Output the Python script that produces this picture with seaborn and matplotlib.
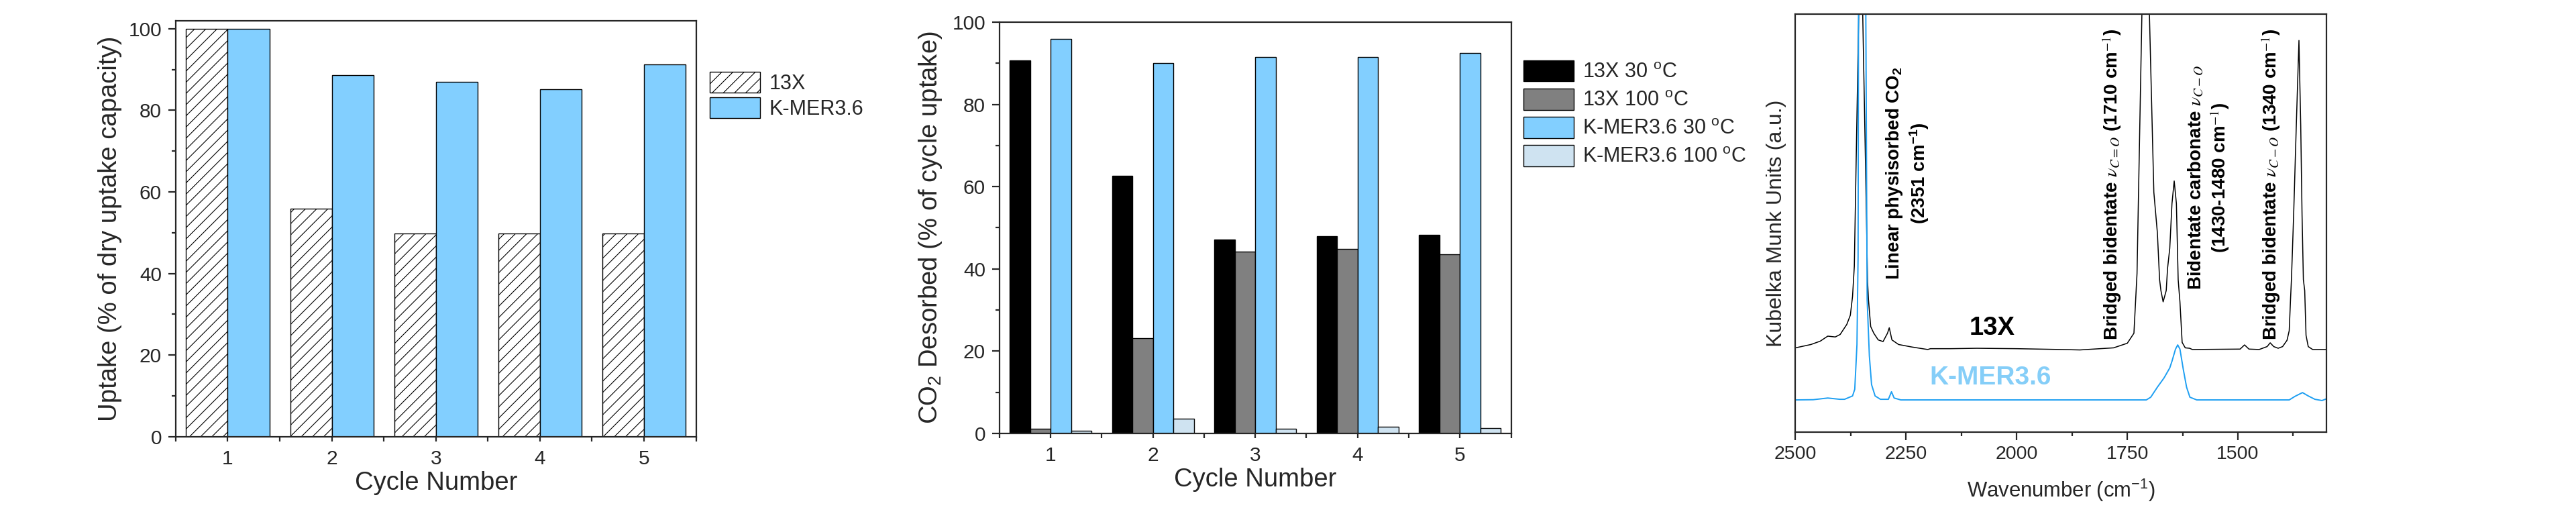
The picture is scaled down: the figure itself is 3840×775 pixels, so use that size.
import matplotlib

matplotlib.use("Agg")
import matplotlib.pyplot as plt
import numpy as np
import pandas as pd
import seaborn as sns
from matplotlib.patches import Patch
from matplotlib.ticker import FixedLocator, MultipleLocator

# ---- data: panel 1 (uptake per cycle) ----
cycles = ["1", "2", "3", "4", "5"]
uptake_13x = [100.0, 55.9, 49.8, 49.8, 49.8]
uptake_kmer = [100.0, 88.6, 86.9, 85.1, 91.3]

# ---- data: panel 2 (CO2 desorbed per cycle) ----
des_13x_30 = [90.7, 62.7, 47.1, 47.9, 48.3]
des_13x_100 = [1.1, 23.1, 44.2, 44.8, 43.5]
des_kmer_30 = [96.0, 90.1, 91.5, 91.5, 92.5]
des_kmer_100 = [0.7, 3.5, 1.1, 1.6, 1.3]

# ---- data: panel 3 (DRIFTS spectra, arbitrary units) ----
wn_13x = [2500, 2465, 2444, 2427, 2410, 2399, 2384, 2376, 2371, 2367, 2362,
          2357, 2352, 2348, 2341, 2337, 2335, 2330, 2323, 2313, 2302, 2292,
          2288, 2282, 2267, 2237, 2201, 2195, 2150, 2090, 2000, 1900, 1857,
          1781, 1750, 1735, 1728, 1717, 1709, 1700, 1690, 1682, 1677, 1674,
          1669, 1662, 1659, 1654, 1649, 1644, 1639, 1635, 1631, 1626, 1619,
          1609, 1603, 1495, 1485, 1475, 1452, 1434, 1427, 1419, 1409, 1399,
          1389, 1384, 1381, 1379, 1374, 1368, 1362, 1358, 1355, 1352, 1349,
          1346, 1341, 1331, 1300]
km_13x = [20.2, 21.0, 21.8, 23.0, 22.8, 23.4, 25.8, 28.0, 32.5, 39.7, 70.0,
          100.0, 115.0, 100.0, 60.0, 36.0, 31.7, 25.3, 23.7, 22.1, 21.7, 23.7,
          25.0, 22.1, 21.0, 20.4, 19.8, 20.0, 20.0, 20.1, 20.0, 19.8, 19.7,
          20.2, 21.3, 23.7, 38.0, 100.0, 118.0, 100.0, 57.4, 47.7, 36.5, 33.9,
          31.2, 33.9, 39.2, 44.0, 54.7, 60.1, 54.7, 36.5, 31.2, 21.5, 20.2,
          20.1, 19.8, 19.9, 20.9, 19.9, 19.8, 20.5, 21.4, 20.5, 20.1, 20.5,
          22.0, 24.3, 31.9, 36.5, 52.0, 73.4, 93.7, 73.4, 52.0, 36.5, 33.9,
          23.2, 20.5, 19.8, 19.8]

wn_kmer = [2500, 2460, 2427, 2400, 2389, 2371, 2366, 2361, 2358.5, 2357.5,
           2350, 2341, 2338, 2333, 2328, 2320, 2308, 2290, 2283, 2277, 2262,
           1707, 1697, 1682, 1667, 1654, 1649, 1641, 1636, 1631, 1623.5, 1616,
           1608.5, 1593, 1384, 1371, 1354, 1341, 1326, 1310, 1300]
km_kmer = [7.75, 7.8, 8.2, 7.9, 7.9, 8.7, 10.3, 21.0, 42.0, 100.0,
           125.0, 100.0, 31.7, 18.3, 11.4, 8.7, 7.9, 7.9, 9.7, 8.2, 7.75,
           7.75, 8.4, 10.8, 13.0, 15.4, 17.0, 19.9, 20.9, 19.9, 15.1, 10.8,
           8.4, 7.75, 7.75, 8.6, 9.5, 8.7, 7.9, 7.6, 8.0]

# colours
light_blue = "#82CFFF"
pale_blue = "#CFE3F1"
grey = "#808080"
line_blue = "#1E9FF2"

sns.set_style("ticks")
plt.rcParams["font.family"] = ["Liberation Sans", "DejaVu Sans"]
plt.rcParams["mathtext.fontset"] = "custom"
plt.rcParams["mathtext.rm"] = "Liberation Sans"
plt.rcParams["mathtext.it"] = "Liberation Sans:italic"
plt.rcParams["mathtext.bf"] = "Liberation Sans:bold"
plt.rcParams["hatch.linewidth"] = 0.8
plt.rcParams["axes.linewidth"] = 1.6

tick_fs = 21.5
label_fs = 27.5
legend_fs = 22

fig = plt.figure(figsize=(38.4, 7.75), dpi=100)
ax1 = fig.add_axes([0.0682, 0.1604, 0.2020, 0.800])
ax2 = fig.add_axes([0.3880, 0.1666, 0.1986, 0.7907])
ax3 = fig.add_axes([0.6970, 0.1686, 0.2061, 0.8043])

# ---------------- panel 1 ----------------
df1 = pd.DataFrame({
    "Cycle": cycles * 2,
    "Material": ["13X"] * 5 + ["K-MER3.6"] * 5,
    "Uptake": uptake_13x + uptake_kmer,
})
sns.barplot(data=df1, x="Cycle", y="Uptake", hue="Material",
            palette=["white", light_blue], saturation=1, edgecolor="black",
            linewidth=1.0, legend=False, ax=ax1)
for bar in ax1.containers[0]:
    bar.set_hatch("//")

ax1.set_ylim(0, 102)
ax1.set_xlim(-0.5, 4.5)
ax1.set_ylabel("Uptake (% of dry uptake capacity)", fontsize=label_fs, labelpad=7)
ax1.set_xlabel("Cycle Number", fontsize=label_fs, labelpad=3)
handles1 = [
    Patch(facecolor="white", edgecolor="black", hatch="//", label="13X"),
    Patch(facecolor=light_blue, edgecolor="black", label="K-MER3.6"),
]
ax1.legend(handles=handles1, loc="upper left", bbox_to_anchor=(1.026, 0.877),
           frameon=False, borderpad=0, borderaxespad=0, handlelength=2.45,
           handleheight=1.2, handletextpad=0.45, labelspacing=0.17,
           fontsize=legend_fs)

# ---------------- panel 2 ----------------
labels2 = ["13X 30 $^{\\mathrm{o}}$C", "13X 100 $^{\\mathrm{o}}$C",
           "K-MER3.6 30 $^{\\mathrm{o}}$C", "K-MER3.6 100 $^{\\mathrm{o}}$C"]
colors2 = ["black", grey, light_blue, pale_blue]
df2 = pd.DataFrame({
    "Cycle": cycles * 4,
    "Series": np.repeat(labels2, 5),
    "Desorbed": des_13x_30 + des_13x_100 + des_kmer_30 + des_kmer_100,
})
sns.barplot(data=df2, x="Cycle", y="Desorbed", hue="Series", palette=colors2,
            saturation=1, edgecolor="black", linewidth=1.0, legend=False, ax=ax2)
ax2.set_ylim(0, 100)
ax2.set_xlim(-0.5, 4.5)
ax2.set_ylabel("CO$_2$ Desorbed (% of cycle uptake)", fontsize=label_fs, labelpad=9)
ax2.set_xlabel("Cycle Number", fontsize=label_fs, labelpad=3)
handles2 = [Patch(facecolor=c, edgecolor="black", label=l)
            for c, l in zip(colors2, labels2)]
ax2.legend(handles=handles2, loc="upper left", bbox_to_anchor=(1.024, 0.907),
           frameon=False, borderpad=0, borderaxespad=0, handlelength=2.45,
           handleheight=1.2, handletextpad=0.45, labelspacing=0.3,
           fontsize=legend_fs)

for ax in (ax1, ax2):
    ax.yaxis.set_major_locator(MultipleLocator(20))
    ax.yaxis.set_minor_locator(MultipleLocator(10))
    ax.xaxis.set_minor_locator(FixedLocator(np.arange(-0.5, 5, 1.0)))
    ax.tick_params(axis="y", which="major", length=8, width=1.6, pad=7,
                   labelsize=tick_fs, direction="out")
    ax.tick_params(axis="y", which="minor", length=4.5, width=1.6, direction="out")
    ax.tick_params(axis="x", which="both", length=5, width=1.6, pad=9,
                   labelsize=tick_fs, direction="out")

# ---------------- panel 3 ----------------
sns.lineplot(x=wn_13x, y=km_13x, color="black", linewidth=1.1, ax=ax3)
sns.lineplot(x=wn_kmer, y=km_kmer, color=line_blue, linewidth=1.4, ax=ax3)
ax3.set_xlim(2500, 1300)
ax3.set_ylim(0, 100)
ax3.set_yticks([])
ax3.xaxis.set_major_locator(MultipleLocator(250))
ax3.xaxis.set_minor_locator(MultipleLocator(125))
ax3.tick_params(axis="x", which="major", length=8.5, width=1.6, pad=6,
                labelsize=20.5, direction="out")
ax3.tick_params(axis="x", which="minor", length=4, width=1.6, direction="out")
ax3.set_xlabel("Wavenumber (cm$^{-1}$)", fontsize=22.3, labelpad=15)
ax3.set_ylabel("Kubelka Munk Units (a.u.)", fontsize=23, labelpad=10)

ann_kw = dict(rotation=90, ha="center", va="center", multialignment="center",
              fontsize=20, fontweight="bold", color="black")
ax3.text(2247, 62.0, "Linear physisorbed CO$_\\mathbf{2}$\n(2351 cm$^{\\mathbf{-1}}$)",
         **ann_kw)
ax3.text(1785, 59.3, r"Bridged bidentate $\nu_{C=O}$ (1710 cm$^{-1}$)",
         math_fontfamily="stix", **ann_kw)
ax3.text(1566, 60.9, "Bidentate carbonate $\\nu_{C-O}$\n(1430-1480 cm$^{-1}$)",
         math_fontfamily="stix", **ann_kw)
ax3.text(1426, 59.3, r"Bridged bidentate $\nu_{C-O}$ (1340 cm$^{-1}$)",
         math_fontfamily="stix", **ann_kw)
ax3.text(2056, 23.3, "13X", ha="center", va="baseline", fontsize=27.5,
         fontweight="bold", color="black")
ax3.text(2060, 11.5, "K-MER3.6", ha="center", va="baseline", fontsize=28,
         fontweight="bold", color="#85CEF8")

fig.savefig("out.png", dpi=100)
